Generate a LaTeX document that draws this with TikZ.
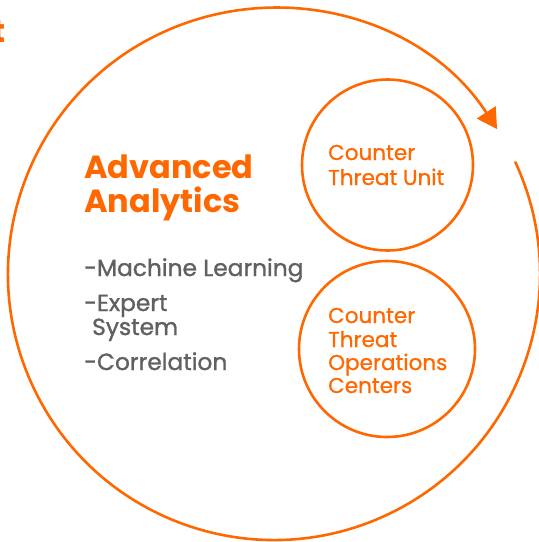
\documentclass[tikz,border=0pt]{standalone}
\usepackage{fontspec}
\setmainfont{Poppins}
\usetikzlibrary{arrows.meta}
\definecolor{orng}{RGB}{255,104,0}
\definecolor{txtgray}{RGB}{96,96,96}
\begin{document}
\begin{tikzpicture}[x=1pt,y=-1pt,
  ring/.style={draw=orng,line width=2.6pt},
  titletext/.style={anchor=base west,inner sep=0pt,text=orng,font=\fontsize{32}{34}\selectfont\bfseries,align=left},
  itemtext/.style={anchor=base west,inner sep=0pt,text=txtgray,font=\fontsize{23.3}{24}\selectfont\addfontfeatures{FakeBold=1.2},align=left},
  unittext/.style={anchor=base west,inner sep=0pt,text=orng,font=\fontsize{21.5}{24}\selectfont\addfontfeatures{FakeBold=0.9},align=left}]
\useasboundingbox (0,0) rectangle (539,542);
% partial letter at top-left
\node[titletext,anchor=base east] (tpart) at (6,42) {t};
% big cycle arc with arrow
\coordinate (bigc) at (274,274);
\draw[ring,-{Triangle[length=20pt,width=22pt]}] ([shift={(-25:266)}]bigc) arc[start angle=-25,end angle=327,radius=266];
% inner circles
\node[ring,circle,minimum size=171pt,inner sep=0pt] (ctu) at (387.5,165) {};
\node[ring,circle,minimum size=176pt,inner sep=0pt] (ctoc) at (387,349) {};
% texts
\node[titletext] (aa1) at (84,178) {Advanced};
\node[titletext] (aa2) at (84,212) {Analytics};
\node[itemtext] (ml) at (84,276) {-Machine Learning};
\node[itemtext] (es1) at (84,311) {-Expert};
\node[itemtext] (es2) at (92,335) {System};
\node[itemtext] (co) at (84,370) {-Correlation};
\node[unittext] (u1) at (328,160) {Counter};
\node[unittext] (u2) at (328,185) {Threat Unit};
\node[unittext] (o1) at (328,323) {Counter};
\node[unittext] (o2) at (328,347) {Threat};
\node[unittext] (o3) at (328,370) {Operations};
\node[unittext] (o4) at (328,393) {Centers};
\end{tikzpicture}
\end{document}
